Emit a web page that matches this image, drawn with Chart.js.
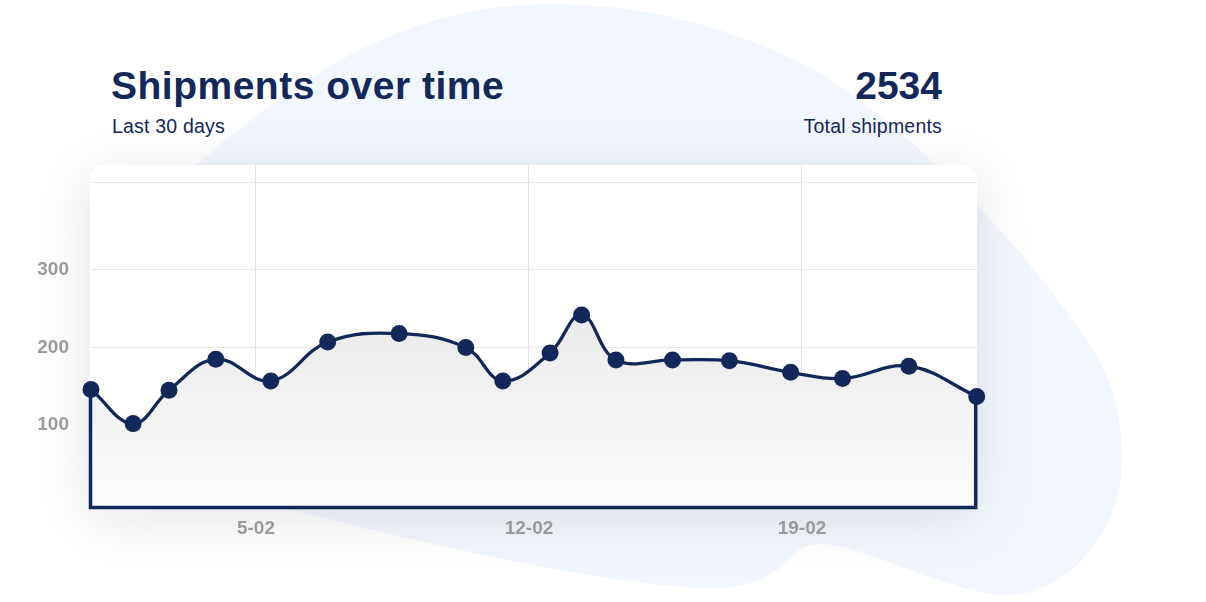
<!DOCTYPE html>
<html>
<head>
<meta charset="utf-8">
<script src="https://cdn.jsdelivr.net/npm/chart.js@4"></script>
<style>
  html, body { margin: 0; padding: 0; background: #fff; }
  body { width: 1206px; height: 602px; position: relative; overflow: hidden; font-family: "Liberation Sans", Arial, sans-serif; color: #13285b; }
  #blob { position: absolute; left: 0; top: 0; }
  #card { position: absolute; left: 90px; top: 165px; width: 887px; height: 343px; background: #fff; border-radius: 14px 14px 0 0; box-shadow: 0 10px 60px rgba(20, 20, 40, 0.11); }
  #chart { position: absolute; left: 0; top: 0; }
  .title { position: absolute; left: 111px; top: 64px; font-size: 39px; font-weight: bold; letter-spacing: 0.5px; line-height: 44px; }
  .sub { position: absolute; left: 112px; top: 115px; font-size: 19.5px; letter-spacing: 0.2px; line-height: 22px; }
  .total { position: absolute; right: 264px; top: 64px; font-size: 39px; font-weight: bold; line-height: 44px; text-align: right; }
  .subr { position: absolute; right: 264px; top: 115px; font-size: 19.5px; letter-spacing: 0.2px; line-height: 22px; text-align: right; }
</style>
</head>
<body>
<svg id="blob" width="1206" height="602">
  <path fill="#f2f7fd" d="M 190 170 C 260 110, 370 15, 520 5 C 640 0, 720 25, 800 62 C 900 115, 1030 250, 1093 350 C 1125 400, 1125 460, 1119 489 C 1112 520, 1100 540, 1085 556 C 1065 580, 1035 597, 1000 595 C 960 592, 900 565, 860 552 C 835 543, 810 540, 796 552 C 780 570, 760 590, 700 588 C 600 582, 470 555, 284 508 L 200 300 Z"/>
</svg>
<div id="card"></div>
<div class="title">Shipments over time</div>
<div class="sub">Last 30 days</div>
<div class="total">2534</div>
<div class="subr">Total shipments</div>
<canvas id="chart" width="1206" height="602"></canvas>
<script>
const days = [0.77, 1.85, 2.77, 3.97, 5.38, 6.84, 8.67, 10.38, 11.33, 12.54, 13.35, 14.23, 15.68, 17.14, 18.71, 20.04, 21.74, 23.48];
const shipments = [146, 102, 145, 185, 157, 207, 218, 200, 157, 193, 242, 184, 184, 183, 168, 160, 176, 137];
const xTickDays = [5, 12, 19];
const xTickLabels = ['5-02', '12-02', '19-02'];
const yTickValues = [100, 200, 300];
const yTopLine = 412;

const navy = '#12275a';

Chart.defaults.font.family = '"Liberation Sans", Arial, sans-serif';

// outline of the filled area: down from first point, along the bottom, up to last point
const areaOutline = {
    id: 'areaOutline',
    afterDatasetsDraw(chart) {
        const pts = chart.getDatasetMeta(0).data;
        const first = pts[0], last = pts[pts.length - 1];
        const bottom = chart.chartArea.bottom;
        const ctx = chart.ctx;
        ctx.save();
        ctx.strokeStyle = navy;
        ctx.lineWidth = 3.5;
        ctx.lineJoin = 'miter';
        ctx.beginPath();
        ctx.moveTo(first.x - 0.5, first.y);
        ctx.lineTo(first.x - 0.5, bottom);
        ctx.lineTo(last.x - 1, bottom);
        ctx.lineTo(last.x - 1, last.y);
        ctx.stroke();
        ctx.restore();
    }
};

const ctx = document.getElementById('chart').getContext('2d');

const chart = new Chart(ctx, {
    type: 'line',
    data: {
        datasets: [{
            label: 'Shipments',
            data: days.map((d, i) => ({ x: d, y: shipments[i] })),
            borderColor: navy,
            borderWidth: 3.3,
            tension: 0.4,
            pointRadius: 8.5,
            pointBackgroundColor: navy,
            pointBorderWidth: 0,
            clip: false,
            fill: 'start',
            backgroundColor: (c) => {
                const area = c.chart.chartArea;
                if (!area) return '#eeeeee';
                const g = c.chart.ctx.createLinearGradient(0, 300, 0, area.bottom);
                g.addColorStop(0, '#e8e8e8');
                g.addColorStop(1, '#fdfdfd');
                return g;
            }
        }]
    },
    options: {
        responsive: false,
        animation: false,
        layout: {
            padding: { left: 0, top: 165, right: 229.3, bottom: 54.5 }
        },
        plugins: {
            legend: { display: false },
            tooltip: { enabled: false }
        },
        scales: {
            x: {
                type: 'linear',
                min: days[0],
                max: days[days.length - 1],
                afterBuildTicks: (scale) => {
                    scale.ticks = xTickDays.map(v => ({ value: v }));
                },
                afterFit: (scale) => { scale.height = 40; },
                grid: { color: '#e4e4e4', lineWidth: 1, drawTicks: false },
                border: { display: false },
                ticks: {
                    autoSkip: false,
                    maxRotation: 0,
                    padding: 10,
                    color: '#9a9a9a',
                    font: { size: 19, weight: 'bold' },
                    callback: (v) => xTickLabels[xTickDays.indexOf(v)] || ''
                }
            },
            y: {
                min: -6,
                max: 435,
                afterBuildTicks: (scale) => {
                    scale.ticks = yTickValues.concat([yTopLine]).map(v => ({ value: v }));
                },
                afterFit: (scale) => { scale.width = 91; },
                grid: { color: '#e8e8e8', lineWidth: 1, drawTicks: false },
                border: { display: false },
                ticks: {
                    padding: 22,
                    color: '#9a9a9a',
                    font: { size: 19, weight: 'bold' },
                    callback: (v) => yTickValues.includes(v) ? v : ''
                }
            }
        }
    },
    plugins: [areaOutline]
});
</script>
</body>
</html>
